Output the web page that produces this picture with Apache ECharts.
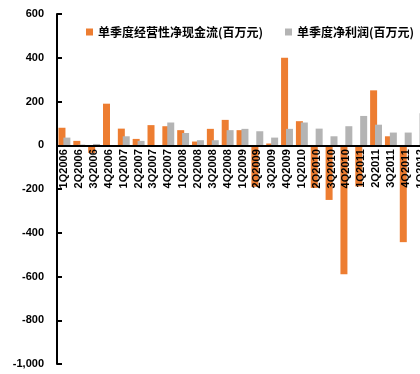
<!DOCTYPE html>
<html>
<head>
<meta charset="utf-8">
<script src="https://cdn.jsdelivr.net/npm/echarts@6/dist/echarts.min.js"></script>
<style>
  html, body { margin: 0; padding: 0; background: #fff; }
  #chart { width: 420px; height: 374px; }
</style>
</head>
<body>
<div id="chart"></div>
<script>
// 季度
const quarters = [
  "1Q2006", "2Q2006", "3Q2006", "4Q2006",
  "1Q2007", "2Q2007", "3Q2007", "4Q2007",
  "1Q2008", "2Q2008", "3Q2008", "4Q2008",
  "1Q2009", "2Q2009", "3Q2009", "4Q2009",
  "1Q2010", "2Q2010", "3Q2010", "4Q2010",
  "1Q2011", "2Q2011", "3Q2011", "4Q2011",
  "1Q2012"
];
// 单季度经营性净现金流(百万元)
const cashFlow = [80, 20, -35, 190, 76, 29, 92, 87, 69, 17, 75, 116, 69, -190, 8, 400, 110, -195, -250, -590, -188, 251, 41, -443, 0];
// 单季度净利润(百万元)
const netProfit = [35, 3, 6, -8, 41, 20, 0, 104, 56, 23, 23, 69, 75, 64, 35, 75, 104, 76, 41, 87, 134, 94, 58, 58, 146];
const yTicks = { min: -1000, max: 600, step: 200 };

const names = ["单季度经营性净现金流(百万元)", "单季度净利润(百万元)"];
const labelFont = { fontFamily: "Liberation Sans", fontWeight: "bold", color: "#000" };
const legendText = { fontFamily: "Noto Sans CJK SC", fontWeight: "bold", fontSize: 12, color: "#000" };

const gridTop = 14, gridHeight = 350;
// x轴放到0的位置（offset往上挪）
const zeroOffset = -gridHeight * (0 - yTicks.min) / (yTicks.max - yTicks.min);

// 图例分两个放，第二个会超出画布右边
function makeLegend(name, left) {
  return {
    data: [name],
    left: left,
    top: 21,
    itemWidth: 7,
    itemHeight: 7,
    itemGap: 0,
    icon: "rect",
    width: 400,
    textStyle: legendText
  };
}

const myChart = echarts.init(document.getElementById("chart"));
const option = {
  animation: false,
  legend: [makeLegend(names[0], 81), makeLegend(names[1], 280)],
  grid: { left: 57, top: gridTop, width: 371, height: gridHeight, containLabel: false, outerBoundsMode: "none" },
  xAxis: {
    type: "category",
    data: quarters,
    position: "bottom",
    offset: zeroOffset,
    z: 5,
    axisLine: { onZero: false, lineStyle: { color: "#000", width: 2 } },
    axisTick: { inside: true, length: 4, lineStyle: { color: "#000", width: 2 } },
    axisLabel: Object.assign({ rotate: 90, fontSize: 11, margin: 4, interval: 0 }, labelFont)
  },
  yAxis: {
    type: "value",
    min: yTicks.min,
    max: yTicks.max,
    interval: yTicks.step,
    splitLine: { show: false },
    axisLine: { show: true, lineStyle: { color: "#000", width: 2 } },
    axisTick: { show: true, inside: true, length: 5, lineStyle: { color: "#000", width: 2 } },
    axisLabel: Object.assign({
      fontSize: 11,
      margin: 13,
      formatter: function (v) { return v.toLocaleString("en-US"); }
    }, labelFont)
  },
  series: [
    {
      name: names[0],
      type: "bar",
      data: cashFlow,
      barWidth: 7,
      barGap: "-30%",
      itemStyle: { color: "#ED7D31" }
    },
    {
      name: names[1],
      type: "bar",
      data: netProfit,
      barWidth: 7,
      itemStyle: { color: "#B4B4B4" }
    }
  ]
};
myChart.setOption(option);
</script>
</body>
</html>
